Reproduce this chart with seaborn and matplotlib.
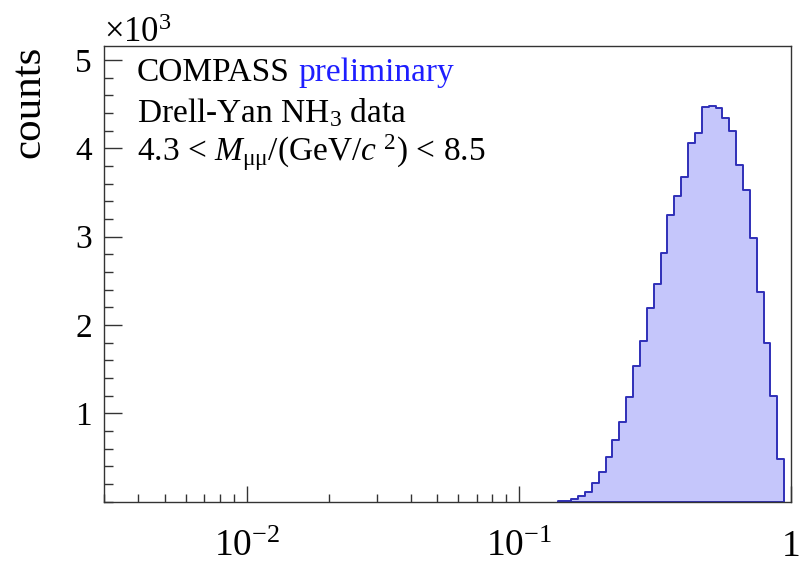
import numpy as np
import pandas as pd
import matplotlib
matplotlib.use("Agg")
import matplotlib.pyplot as plt
import seaborn as sns

# ---------------- data ----------------
x_min, x_max, n_bins = 0.003, 1.0, 100          # log-spaced binning of the histogram
first_bin = 66                                   # index of first non-empty bin
counts = [5, 12, 30, 60, 112, 207, 335, 502, 698, 901, 1181, 1532,
          1819, 2196, 2468, 2815, 3246, 3461, 3672, 4061, 4178, 4465,
          4477, 4454, 4341, 4194, 3809, 3529, 2982, 2370, 1800, 1200, 488]
y_max = 5163
ytick_vals = [1000, 2000, 3000, 4000, 5000]
ytick_labels = ["1", "2", "3", "4", "5"]
xtick_vals = [0.01, 0.1, 1.0]
xtick_labels = [r"$10^{-2}$", r"$10^{-1}$", "1"]

# ---------------- style ----------------
sns.set_style("ticks")
plt.rcParams["font.family"] = ["Liberation Serif", "DejaVu Serif"]
plt.rcParams["mathtext.fontset"] = "custom"
plt.rcParams["mathtext.rm"] = "Liberation Serif"
plt.rcParams["mathtext.it"] = "Liberation Serif:italic"
plt.rcParams["mathtext.bf"] = "Liberation Serif:bold"
plt.rcParams["text.color"] = "black"
plt.rcParams["axes.labelcolor"] = "black"

fill_color = "#c5c6fb"
line_color = "#2f2fb8"
frame_color = "#333333"

log_edges = np.linspace(np.log10(x_min), np.log10(x_max), n_bins + 1)
sel_edges = log_edges[first_bin:first_bin + len(counts) + 1]
centers = 10 ** (0.5 * (sel_edges[:-1] + sel_edges[1:]))
df = pd.DataFrame({"x": centers, "counts": counts})

fig = plt.figure(figsize=(8, 5.67), dpi=100)
ax = fig.add_axes([0.1304, 0.1153, 0.8584, 0.8041])

sns.histplot(data=df, x="x", weights="counts", bins=list(sel_edges), log_scale=True,
             element="step", fill=True, color=fill_color, edgecolor=line_color,
             alpha=1, linewidth=1.4, ax=ax)

ax.set_xlim(x_min, x_max)
ax.set_ylim(0, y_max)

for s in ax.spines.values():
    s.set_visible(True)
    s.set_color(frame_color)
    s.set_linewidth(1.0)

ax.set_yticks(ytick_vals)
ax.set_yticklabels(ytick_labels)
ax.yaxis.set_minor_locator(matplotlib.ticker.MultipleLocator(200))
ax.set_xticks(xtick_vals)
ax.set_xticklabels(xtick_labels)
ax.xaxis.set_minor_locator(matplotlib.ticker.LogLocator(base=10, subs=np.arange(2, 10)))
ax.xaxis.set_minor_formatter(matplotlib.ticker.NullFormatter())

ax.tick_params(axis="both", which="both", direction="in", colors=frame_color,
               labelcolor="black", top=False, right=False)
ax.tick_params(axis="y", which="major", length=13, width=1.0, labelsize=24, pad=9)
ax.tick_params(axis="y", which="minor", length=6.5, width=1.0)
ax.tick_params(axis="x", which="major", length=11.5, width=1.0, labelsize=27, pad=20)
ax.tick_params(axis="x", which="minor", length=6, width=1.0)

ax.set_xlabel("")
ax.set_ylabel("counts", fontsize=31, loc="top")
ax.yaxis.set_label_coords(-0.081, 1.0)

ax.text(0.0, 1.008, r"$\times$10$^{3}$", transform=ax.transAxes,
        ha="left", va="baseline", fontsize=25)

t1 = ax.text(0.0476, 0.9226, "COMPASS", transform=ax.transAxes,
             ha="left", va="baseline", fontsize=24)
ax.annotate("preliminary", xy=(1, 0), xycoords=t1, xytext=(6, 0),
            textcoords="offset points", ha="left", va="bottom",
            fontsize=24, color="#1e1eff")
ax.text(0.0476, 0.8326, r"Drell-Yan NH$_{3}$ data", transform=ax.transAxes,
        ha="left", va="baseline", fontsize=24)
ax.text(0.0476, 0.7471, r"4.3 < $M_{\mathrm{μμ}}$/(GeV/$c$ $^{2}$) < 8.5",
        transform=ax.transAxes, ha="left", va="baseline", fontsize=24)

fig.savefig("out.png", dpi=100)
